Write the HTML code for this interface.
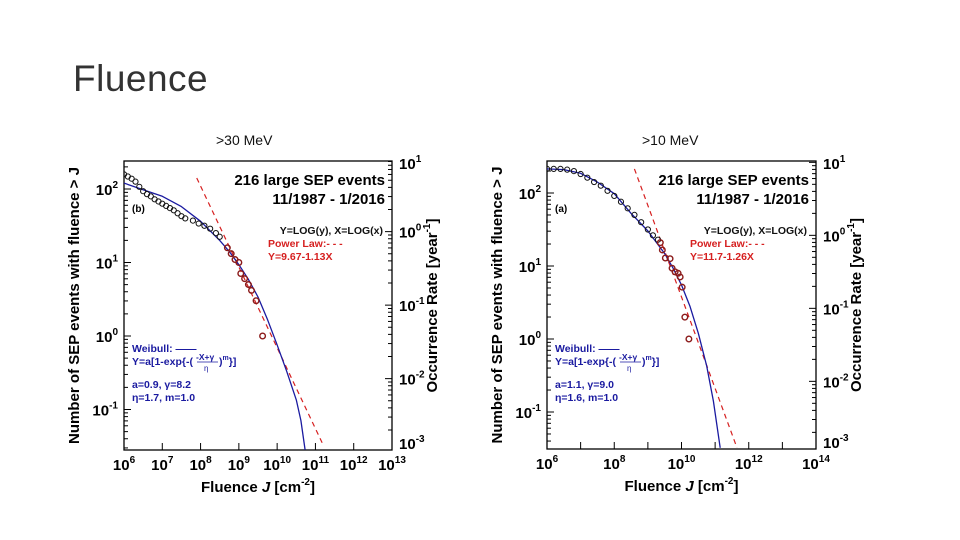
<!DOCTYPE html>
<html><head><meta charset="utf-8">
<style>
html,body{margin:0;padding:0;background:#fff;}
body{width:960px;height:540px;overflow:hidden;position:relative;font-family:"Liberation Sans",sans-serif;}
#title{position:absolute;left:73px;top:58px;font-size:37px;font-weight:300;color:#333;letter-spacing:0.5px;}
.sub{position:absolute;top:132px;font-size:14px;color:#111;}
svg{position:absolute;left:0;top:0;}
</style></head>
<body>
<div id="title">Fluence</div>
<div class="sub" style="left:216px">&gt;30 MeV</div>
<div class="sub" style="left:642px">&gt;10 MeV</div>
<svg id="svg" width="960" height="540"></svg>
<script>
// ---- Left panel (>30 MeV) data: log10 values ----
const leftBlackX=[6.0,6.1,6.2,6.3,6.4,6.5,6.6,6.7,6.8,6.9,7.0,7.1,7.2,7.3,7.4,7.5,7.6,7.8,7.95,8.1,8.25,8.4,8.5];
const leftBlackY=[2.2,2.17,2.14,2.1,2.03,1.97,1.93,1.9,1.86,1.83,1.8,1.77,1.74,1.71,1.67,1.63,1.6,1.57,1.53,1.5,1.46,1.4,1.35];
const leftRedX=[8.7,8.8,8.9,9.0,9.05,9.15,9.25,9.33,9.45,9.62];
const leftRedY=[1.2,1.12,1.04,1.0,0.85,0.78,0.7,0.62,0.48,0.0];
const leftFitX=[6.0,6.5,7.0,7.5,8.0,8.5,8.75,9.0,9.25,9.5,9.75,10.0,10.25,10.5,10.62,10.73];
const leftFitY=[2.08,1.99,1.9,1.76,1.56,1.3,1.15,0.97,0.77,0.53,0.22,-0.12,-0.48,-0.87,-1.15,-1.55];
const leftPowX=[7.9,11.2];
const leftPowY=[2.15,-1.48];
// ---- Right panel (>10 MeV) data ----
const rightBlackX=[6.0,6.2,6.4,6.6,6.8,7.0,7.2,7.4,7.6,7.8,8.0,8.2,8.4,8.6,8.8,9.0,9.15,9.3];
const rightBlackY=[2.33,2.33,2.33,2.32,2.3,2.26,2.21,2.15,2.1,2.03,1.96,1.88,1.79,1.7,1.6,1.5,1.42,1.36];
const rightRedX=[9.37,9.43,9.52,9.66,9.72,9.81,9.9,9.96,10.02,10.1,10.22];
const rightRedY=[1.32,1.22,1.11,1.1,0.97,0.92,0.9,0.85,0.71,0.3,0.0];
const rightFitX=[6.0,6.5,7.0,7.5,8.0,8.5,9.0,9.5,9.75,10.0,10.25,10.5,10.75,10.95,11.15];
const rightFitY=[2.33,2.32,2.27,2.15,1.99,1.72,1.48,1.17,0.97,0.74,0.45,0.08,-0.37,-0.85,-1.49];
const rightPowX=[8.6,11.65];
const rightPowY=[2.33,-1.49];
// axis ticks
const yTicks=[-1,0,1,2];
const rateTicks=[1,0,-1,-2,-3];
const leftXTicks=[6,7,8,9,10,11,12,13];
const rightXTicks=[6,8,10,12,14];

const NS="http://www.w3.org/2000/svg";
const svg=document.getElementById('svg');
function el(tag,attrs,parent){const e=document.createElementNS(NS,tag);for(const k in attrs)e.setAttribute(k,attrs[k]);(parent||svg).appendChild(e);return e;}
function txt(x,y,s,opt,parent){const t=el('text',Object.assign({x:x,y:y,'font-family':'Liberation Sans, DejaVu Sans, sans-serif','font-weight':'bold'},opt||{}),parent);t.innerHTML=s;return t;}

function panel(P){
  const g=el('g',{});
  
  
  const sx=v=>P.x0+(v-P.xmin)*(P.x1-P.x0)/(P.xmax-P.xmin);
  const sy=v=>P.yPx2-(v-2)*P.pxDec;
  const bottomLog=2-(P.y1-P.yPx2)/P.pxDec, topLog=2+(P.yPx2-P.y0)/P.pxDec;
  const fr=el('rect',{x:P.x0,y:P.y0,width:P.x1-P.x0,height:P.y1-P.y0,fill:'none',stroke:'#000','stroke-width':1.3},g);
  
  
  for(let d=-2;d<=2;d++){for(let m=1;m<10;m++){const v=d+Math.log10(m);if(v<bottomLog||v>topLog)continue;const L=m==1?7:4;const y=sy(v);
    el('line',{x1:P.x0,y1:y,x2:P.x0+L,y2:y,stroke:'#000','stroke-width':1},g);}}
  for(let d=-4;d<=1;d++){for(let m=1;m<10;m++){const v=d+Math.log10(m)+P.rateOff;if(v<bottomLog||v>topLog)continue;const L=m==1?7:4;const y=sy(v);
    el('line',{x1:P.x1,y1:y,x2:P.x1-L,y2:y,stroke:'#000','stroke-width':1},g);}}
  for(let d=P.xmin;d<P.xmax;d++){const x=sx(d);
    el('line',{x1:x,y1:P.y1,x2:x,y2:P.y1-7,stroke:'#000','stroke-width':1},g);}
  yTicks.forEach(t=>{const l=txt(P.x0-6,sy(t)+6,'10<tspan font-size="10" dy="-7">'+t+'</tspan>',{'font-size':15,'text-anchor':'end'},g);
    
    });
  rateTicks.forEach(t=>{let y=sy(t+P.rateOff)+6;y=Math.max(P.y0+8,Math.min(P.y1-1,y));
    const l=txt(P.x1+7,y,'10<tspan font-size="10" dy="-7">'+t+'</tspan>',{'font-size':15},g);
    
    });
  P.xTicks.forEach(t=>{const l=txt(sx(t),P.y1+20,'10<tspan font-size="10" dy="-7">'+t+'</tspan>',{'font-size':15,'text-anchor':'middle'},g);
    
    });
  const xt=txt((P.x0+P.x1)/2,P.y1+42,'Fluence <tspan font-style="italic">J</tspan> [cm<tspan font-size="10" dy="-7">-2</tspan><tspan dy="7">]</tspan>',{'font-size':15,'text-anchor':'middle'},g);
  
  
  const yt=txt(0,0,'Number of SEP events with fluence &gt; J',{'font-size':15,'text-anchor':'middle',transform:'translate('+(P.x0-45)+','+((P.y0+P.y1)/2)+') rotate(-90)'},g);
  
  
  const rt=txt(0,0,'Occurrence Rate [year<tspan font-size="10" dy="-7">-1</tspan><tspan dy="7">]</tspan>',{'font-size':15,'text-anchor':'middle',transform:'translate('+(P.x1+45)+','+((P.y0+P.y1)/2)+') rotate(-90)'},g);
  
  
  const cid='clip'+P.name;
  const cp=el('clipPath',{id:cid},g);el('rect',{x:P.x0,y:P.y0,width:P.x1-P.x0,height:P.y1-P.y0},cp);
  const cg=el('g',{'clip-path':'url(#'+cid+')'},g);
  const pl=el('line',{x1:sx(P.powX[0]),y1:sy(P.powY[0]),x2:sx(P.powX[1]),y2:sy(P.powY[1]),stroke:'#d62020','stroke-width':1.2,'stroke-dasharray':'5,4'},cg);
  
  
  const pts=P.fitX.map((x,i)=>sx(x).toFixed(1)+','+sy(P.fitY[i]).toFixed(1)).join(' ');
  const wf=el('polyline',{points:pts,fill:'none',stroke:'#1a1aa0','stroke-width':1.3,'stroke-linejoin':'round'},cg);
  
  
  P.bx.forEach((x,i)=>{const c=el('circle',{cx:sx(x),cy:sy(P.by[i]),r:2.6,fill:'none',stroke:'#111','stroke-width':1},cg);
    
    });
  P.rx.forEach((x,i)=>{const c=el('circle',{cx:sx(x),cy:sy(P.ry[i]),r:2.8,fill:'none',stroke:'#8b1a1a','stroke-width':1.4},cg);
    
    });
  const R=P.x1-7;
  txt(R,P.y0+24,'216 large SEP events',{'font-size':15,'text-anchor':'end'},g);
  txt(R,P.y0+43,'11/1987 - 1/2016',{'font-size':15,'text-anchor':'end'},g);
  txt(P.x0+8,P.y0+51,P.panelTag,{'font-size':10},g);
  txt(R-2,P.y0+73,'Y=LOG(y), X=LOG(x)',{'font-size':10.5,'text-anchor':'end',fill:'#111'},g);
  txt(P.powTx,P.y0+86,'Power Law:- - -',{'font-size':10.5,fill:'#d62020'},g);
  txt(P.powTx,P.y0+99,P.powEq,{'font-size':10.5,fill:'#d62020'},g);
  const bl='#1a1aa0';
  txt(P.x0+8,P.y0+191,'Weibull: ——',{'font-size':10.5,fill:bl},g);
  txt(P.x0+8,P.y0+204,'Y=a[1-exp{-(',{'font-size':10.5,fill:bl},g);
  txt(P.x0+72,P.y0+199,'-X+γ',{'font-size':8.5,fill:bl},g);
  el('line',{x1:P.x0+73,y1:P.y0+201,x2:P.x0+94,y2:P.y0+201,stroke:bl,'stroke-width':0.8},g);
  txt(P.x0+80,P.y0+210,'η',{'font-size':8,fill:bl,'font-weight':'normal'},g);
  txt(P.x0+95,P.y0+204,')<tspan font-size="7" dy="-5">m</tspan><tspan dy="5">}]</tspan>',{'font-size':10.5,fill:bl},g);
  txt(P.x0+8,P.y0+227,P.p1,{'font-size':10.5,fill:bl},g);
  txt(P.x0+8,P.y0+240,P.p2,{'font-size':10.5,fill:bl},g);
}
panel({name:'left-chart-30mev',x0:124,x1:392,y0:161,y1:450,xmin:6,xmax:13,yPx2:189,pxDec:73.5,rateOff:1.42,
  xTicks:leftXTicks,bx:leftBlackX,by:leftBlackY,rx:leftRedX,ry:leftRedY,fitX:leftFitX,fitY:leftFitY,powX:leftPowX,powY:leftPowY,
  panelTag:'(b)',powTx:268,powEq:'Y=9.67-1.13X',p1:'a=0.9, γ=8.2',p2:'η=1.7, m=1.0'});
panel({name:'right-chart-10mev',x0:547,x1:816,y0:161,y1:449,xmin:6,xmax:14,yPx2:193,pxDec:73,rateOff:1.42,
  xTicks:rightXTicks,bx:rightBlackX,by:rightBlackY,rx:rightRedX,ry:rightRedY,fitX:rightFitX,fitY:rightFitY,powX:rightPowX,powY:rightPowY,
  panelTag:'(a)',powTx:690,powEq:'Y=11.7-1.26X',p1:'a=1.1, γ=9.0',p2:'η=1.6, m=1.0'});
</script>
</body></html>
